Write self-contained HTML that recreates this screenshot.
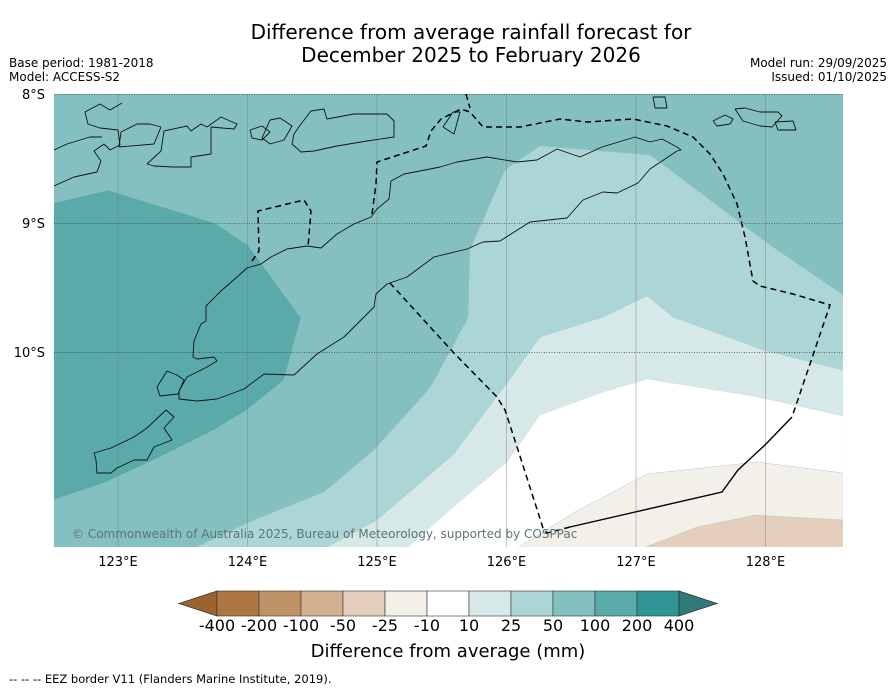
<!DOCTYPE html>
<html><head><meta charset="utf-8"><style>
body{margin:0;background:#fff;width:896px;height:690px;overflow:hidden;font-family:"Liberation Sans","DejaVu Sans",sans-serif}
svg{display:block}
</style></head><body>
<svg id="chart" width="896" height="690" viewBox="0 0 896 690" font-family="DejaVu Sans, Liberation Sans, sans-serif">
<text x="471" y="39" text-anchor="middle" font-size="20" fill="#000">Difference from average rainfall forecast for</text>
<text x="471" y="62" text-anchor="middle" font-size="20" fill="#000">December 2025 to February 2026</text>
<text x="9" y="67" font-size="12">Base period: 1981-2018</text>
<text x="9" y="81" font-size="12">Model: ACCESS-S2</text>
<text x="887" y="67" font-size="12" text-anchor="end">Model run: 29/09/2025</text>
<text x="887" y="81" font-size="12" text-anchor="end">Issued: 01/10/2025</text>
<defs><clipPath id="mapclip"><rect x="54" y="94" width="789" height="453"/></clipPath></defs>
<g id="map" clip-path="url(#mapclip)"></g>
<g id="axes"></g>
<g id="cbar"></g>
<text x="448" y="657" text-anchor="middle" font-size="18">Difference from average (mm)</text>
<text x="9" y="683" font-size="11.5">--  --  -- EEZ border V11 (Flanders Marine Institute, 2019).</text>
</svg>
<script>
// ---- data ----
const levelLabels=["-400","-200","-100","-50","-25","-10","10","25","50","100","200","400"];
const levelColors=["#ad7642","#c09268","#d3b08f","#e3cfbc","#f3efe9","#ffffff","#d6e9e8","#acd6d5","#84c0bf","#5aaaaa","#2f9594"];
const lonTicks=[123,124,125,126,127,128];
const latTicks=[8,9,10];
// contour band boundaries (lon °E, lat °S)
const band100Lon=[122.5,122.923,123.749,124.004,124.413,124.282,123.996,123.741,123.278,122.892,122.5];
const band100Lat=[8.845,8.744,9.000,9.171,9.736,10.217,10.450,10.605,10.837,11.016,11.147];
const band25Lon=[123.587,124.050,124.591,124.977,125.409,125.703,125.718,125.988,126.259,127.108,128.035,128.6];
const band25Lat=[11.52,11.302,11.085,10.760,10.279,9.736,9.209,8.589,8.403,8.473,9.171,9.558];
const band10Lon=[124.598,125.0,125.587,126.004,126.259,126.745,127.085,127.286,127.981,128.6];
const band10Lat=[11.52,11.302,10.798,10.240,9.884,9.729,9.566,9.729,9.984,10.140];
const bandM10Lon=[125.232,125.587,126.004,126.259,126.745,127.085,127.903,128.6];
const bandM10Lat=[11.52,11.202,10.853,10.488,10.310,10.209,10.341,10.496];
const bandM25Lon=[126.081,126.514,127.085,127.934,128.6];
const bandM25Lat=[11.52,11.248,10.946,10.853,10.938];
const bandM50Lon=[127.054,127.471,127.919,128.6];
const bandM50Lat=[11.52,11.357,11.264,11.302];

const NS="http://www.w3.org/2000/svg";
function xS(lon){return 118+(lon-123)*129.5;}
function yS(lat){return 94+(lat-8)*129;}
function mk(tag,attrs,parent){const e=document.createElementNS(NS,tag);for(const k in attrs)e.setAttribute(k,attrs[k]);parent.appendChild(e);return e;}
const map=document.getElementById('map');
const bg=mk('rect',{x:54,y:94,width:789,height:453,fill:"#84c0bf"},map);


function ptsOf(lons,lats,extra){let p=lons.map((l,i)=>xS(l).toFixed(1)+","+yS(lats[i]).toFixed(1));return p.concat(extra).join(" ");}
const corner=[xS(128.6)+","+yS(11.52)];
const bands=[
 {lon:band100Lon,lat:band100Lat,c:"#5aaaaa",n:"band-100-200",ex:[]},
 {lon:band25Lon,lat:band25Lat,c:"#acd6d5",n:"band-25-50",ex:corner},
 {lon:band10Lon,lat:band10Lat,c:"#d6e9e8",n:"band-10-25",ex:corner},
 {lon:bandM10Lon,lat:bandM10Lat,c:"#ffffff",n:"band-neutral",ex:corner},
 {lon:bandM25Lon,lat:bandM25Lat,c:"#f3efe9",n:"band-minus-10-25",ex:corner},
 {lon:bandM50Lon,lat:bandM50Lat,c:"#e3cfbc",n:"band-minus-25-50",ex:corner}];
bands.forEach(b=>{
 const p=mk('polygon',{points:ptsOf(b.lon,b.lat,b.ex),fill:b.c,stroke:b.c==="#ffffff"?"#c8dcdb":"#9cc4c3","stroke-width":0.4},map);
 
 
});
// grid
lonTicks.forEach(l=>{
 const g=mk('line',{x1:xS(l),x2:xS(l),y1:94,y2:547,stroke:"#777","stroke-width":0.6,"stroke-opacity":0.7},map);
 
 
});
latTicks.forEach(l=>{
 const g=mk('line',{x1:54,x2:843,y1:yS(l)+0.5,y2:yS(l)+0.5,stroke:"#444","stroke-width":0.7,"stroke-dasharray":"1 1.5"},map);
 
 
});
// coastlines (decorative geography)
const coasts=[
"179,391 179,399 197,401 217,399 244,389 264,374 294,375 317,354 344,337 374,307 376,294 387,284 407,277 434,257 467,249 483,242 500,241 530,222 567,218 583,200 603,192 617,193 638,183 650,169 677,151 681,150 677,147 662,139 650,142 635,137 602,147 580,157 557,149 537,160 517,162 487,157 457,162 440,167 420,171 404,174 391,181 389,199 377,209 371,217 354,224 337,234 321,248 307,246 287,249 271,257 261,264 247,268 237,277 221,291 206,306 206,321 201,324 194,341 193,357 197,359 214,357 217,361 207,367 187,377 179,391",
"157,387 167,371 177,375 184,380 178,394 160,396 157,387",
"96,460 94,453 111,448 134,437 147,428 166,410 174,417 164,428 172,440 154,447 147,460 134,460 117,468 111,473 97,473 96,460",
"301,124 311,111 324,109 327,119 354,114 387,114 394,121 394,137 367,141 337,146 314,151 301,152 292,144 294,134 301,124",
"147,164 161,151 164,131 187,126 191,131 201,124 207,127 221,117 237,124 234,129 211,127 211,154 191,157 191,167 172,167 154,166 147,164",
"119,147 154,144 161,127 150,124 137,124 121,132 119,147",
"54,186 74,177 97,172 101,161 94,151 104,144 110,150 120,145 118,130 100,128 88,124 85,112 100,104 110,110 122,103",
"54,150 67,144 90,137 102,137",
"653,97 665,97 667,108 655,108 653,97",
"713,121 725,115 733,119 730,124 717,126 713,121",
"735,109 745,108 760,112 778,112 782,116 772,127 760,126 743,121 735,109",
"775,122 793,121 796,130 778,130 775,122",
"453,112 460,112 454,134 443,127 453,112",
"250,130 262,126 270,132 262,140 252,138 250,130",
"270,120 280,118 292,126 284,140 270,144 262,138 270,120"];
coasts.forEach(c=>{
 const p=mk('polyline',{points:c,fill:"none",stroke:"#111","stroke-width":0.9,"stroke-linejoin":"round"},map);
 
 
});
const eezDash=[
"372,214 376,184 377,162 426,146 431,131 441,119 461,109 470,112 483,127 520,127 560,119 587,122 633,119 667,126 693,137 710,154 723,174 737,204 745,237 753,281 760,286 793,294 830,305 792,417",
"570,527 547,533 543,528 518,450 505,410 497,397 453,352 390,283",
"252,261 259,251 258,211 304,200 311,211 308,247",
"466,94 470,108"];
eezDash.forEach(c=>{
 const p=mk('polyline',{points:c,fill:"none",stroke:"#000","stroke-width":1.5,"stroke-dasharray":"6 4"},map);
 
 
});
const eezSolid=mk('polyline',{points:"792,417 765,445 738,470 722,492 570,527",fill:"none",stroke:"#000","stroke-width":1.4},map);


const cp=mk('text',{x:72,y:538,"font-size":12,fill:"#5d7474"},map);
cp.textContent="© Commonwealth of Australia 2025, Bureau of Meteorology, supported by COSPPac";


// axes labels
const axes=document.getElementById('axes');
lonTicks.forEach(l=>{
 const t=mk('text',{x:xS(l),y:566,"text-anchor":"middle","font-size":13},axes);
 t.textContent=l+"°E";
 
 
});
latTicks.forEach(l=>{
 const t=mk('text',{x:45,y:yS(l)+5,"text-anchor":"end","font-size":13},axes);
 t.textContent=l+"°S";
 
 
});
// colorbar
const cb=document.getElementById('cbar');
const cbX0=217,cbW=42,cbY=591,cbH=25;
const lt=mk('polygon',{points:`179,${cbY+cbH/2} ${cbX0},${cbY} ${cbX0},${cbY+cbH}`,fill:"#9b6330",stroke:"#333","stroke-width":0.8},cb);


levelColors.forEach((c,i)=>{
 const r=mk('rect',{x:cbX0+i*cbW,y:cbY,width:cbW,height:cbH,fill:c,stroke:"#333","stroke-width":0.6},cb);
 
 
});
const xe=cbX0+levelColors.length*cbW;
const rt=mk('polygon',{points:`${xe},${cbY} ${xe+38},${cbY+cbH/2} ${xe},${cbY+cbH}`,fill:"#2e7b79",stroke:"#333","stroke-width":0.8},cb);


levelLabels.forEach((s,i)=>{
 const t=mk('text',{x:cbX0+i*cbW,y:631,"text-anchor":"middle","font-size":16},cb);
 t.textContent=s;
 
 
});
</script>
</body></html>
